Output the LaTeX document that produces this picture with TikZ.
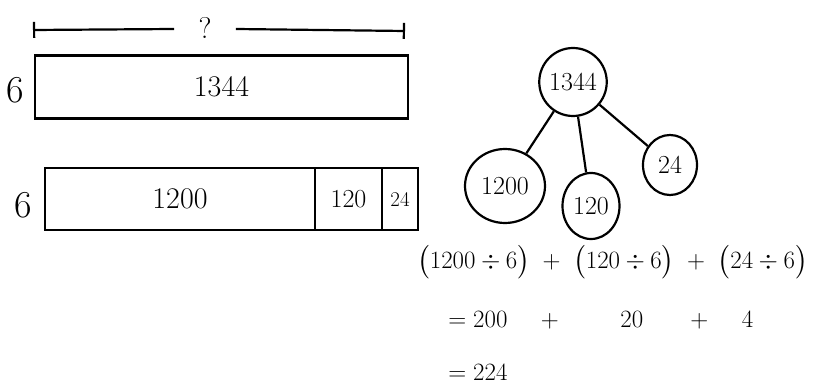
\documentclass[tikz,border=0pt]{standalone}
\usepackage{tikz}
\usepackage{amsmath, amssymb}
\usepackage{fontspec}
\usetikzlibrary{calc}
\usetikzlibrary{shapes.geometric}
\usetikzlibrary{arrows.meta}

\begin{document}
\begin{tikzpicture}[x=1pt, y=-1pt, line width=2.2pt,
        tape/.style={draw, rectangle, line width=2.2pt, inner sep=0pt, outer sep=0pt},
        bubble/.style={draw, ellipse, line width=2.2pt, inner sep=0pt},
        big/.style={font=\fontsize{38}{40}\selectfont},
        mid/.style={font=\fontsize{30}{32}\selectfont},
        small/.style={font=\fontsize{26}{28}\selectfont},
        eq/.style={font=\fontsize{28}{30}\selectfont}]
        \useasboundingbox (0,0) rectangle (814,387);
        % 上のテープ図
        \node[tape, minimum width=373pt, minimum height=63pt, mid] (Whole) at (221.5,87) {1344};
        \node[big] (SixA) at (15,90) {6};
        \coordinate (BrL) at (33,30);
        \coordinate (BrR) at (405,31);
        \node[mid] (Q) at (205,28) {?};
        \draw[{Bar[width=16pt]}-] (BrL) -- ($(Q.west) - (20,-1)$);
        \draw[-{Bar[width=16pt]}] ($(Q.east) + (20,1)$) -- (BrR);
        % 下のテープ図
        \node[tape, minimum width=270pt, minimum height=62pt, mid] (PartA) at (180,199) {1200};
        \node[tape, minimum width=67pt, minimum height=62pt, small, anchor=west] (PartB) at (PartA.east) {120};
        \node[tape, minimum width=36pt, minimum height=62pt, font=\fontsize{21}{23}\selectfont, anchor=west] (PartC) at (PartB.east) {24};
        \node[big] (SixB) at (23,205) {6};
        % 数の分解
        \node[bubble, minimum width=66pt, minimum height=68pt, small] (Root) at (573,82) {1344};
        \node[bubble, minimum width=80pt, minimum height=74pt, small] (Big) at (505,186) {1200};
        \node[bubble, minimum width=57pt, minimum height=66pt, small] (Mid) at (591,206) {120};
        \node[bubble, minimum width=54pt, minimum height=60pt, small] (Small) at (670,165) {24};
        \draw (Root) -- (Big);
        \draw (Root) -- (Mid);
        \draw (Root) -- (Small);
        % 計算
        \node[eq, anchor=west, inner sep=0pt] (LineA) at (416,262) {$\bigl(1200\div 6\bigr)\;+\;\bigl(120\div 6\bigr)\;+\;\bigl(24\div 6\bigr)$};
        \node[eq, anchor=west] (LineB) at (444,320) {$=200\quad+\qquad 20\quad\;\;+\quad 4$};
        \node[eq, anchor=west] (LineC) at (444,372) {$=224$};
\end{tikzpicture}
\end{document}
